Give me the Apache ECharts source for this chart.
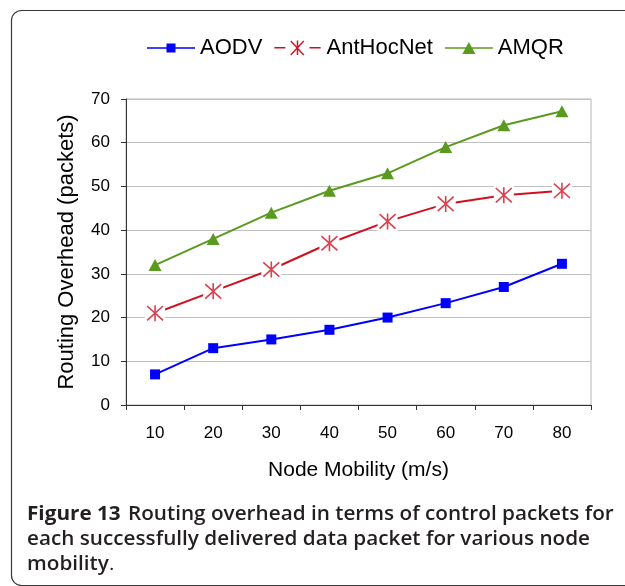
<!DOCTYPE html>
<html>
<head>
<meta charset="utf-8">
<script src="https://cdn.jsdelivr.net/npm/echarts@6/dist/echarts.min.js"></script>
<style>
  html, body { margin: 0; padding: 0; background: #ffffff; }
  #chart { width: 625px; height: 586px; }
</style>
</head>
<body>
<div id="chart"></div>
<script>
// Node mobility (m/s) on the category axis
const mobility = ['10', '20', '30', '40', '50', '60', '70', '80'];
// Routing overhead (control packets per delivered data packet)
const aodv = [7, 13, 15, 17.2, 20, 23.3, 27, 32.3];
const antHocNet = [21, 26, 31, 37, 42, 46, 48, 49];
const amqr = [32, 38, 44, 49, 53, 59, 64, 67.2];

const BLUE = '#0000ff';
const RED = '#d01020';
const GREEN = '#5a9a1e';
const AXIS_FONT = '"Liberation Sans", Arial, sans-serif';
const CAPTION_FONT = '"Open Sans", sans-serif';

// Asterisk marker: vertical bar plus an X, stroked
const asterisk = 'path://M1 1L19 19M19 1L1 19M10 0L10 20';

// Legend icons (48 x 15): line with the series marker in the middle
const iconSquare = 'path://M0 6.75H48V8.25H0Z M19.5 3H28.5V12H19.5Z';
const iconTriangle = 'path://M0 6.75H48V8.25H0Z M24 1.5L30.5 13.5L17.5 13.5Z';
const iconAsterisk = 'path://M0 6.75H11.5V8.25H0Z M36.5 6.75H48V8.25H36.5Z ' +
  'M23.25 0H24.75V15H23.25Z ' +
  'M17.53 -0.03L31.03 14.47L29.97 15.53L16.47 1.03Z ' +
  'M31.03 1.03L17.53 15.53L16.47 14.47L29.97 -0.03Z';

const chart = echarts.init(document.getElementById('chart'), null, { renderer: 'canvas' });

chart.setOption({
  animation: false,
  backgroundColor: '#ffffff',
  textStyle: { fontFamily: AXIS_FONT },
  grid: {
    left: 126, right: 34, top: 99, bottom: 181,
    show: true, borderColor: '#b4b4b4', borderWidth: 1, backgroundColor: 'transparent'
  },
  legend: {
    left: 147, top: 37, padding: 0,
    itemWidth: 48, itemHeight: 15, itemGap: 12,
    textStyle: { fontSize: 22, color: '#000', fontFamily: AXIS_FONT },
    selectedMode: false,
    data: [
      { name: 'AODV', icon: iconSquare, itemStyle: { color: BLUE, borderWidth: 0 } },
      { name: 'AntHocNet', icon: iconAsterisk, itemStyle: { color: RED, borderWidth: 0 } },
      { name: 'AMQR', icon: iconTriangle, itemStyle: { color: GREEN, borderWidth: 0 } }
    ]
  },
  xAxis: {
    type: 'category',
    data: mobility,
    boundaryGap: true,
    name: 'Node Mobility (m/s)',
    nameLocation: 'middle',
    nameGap: 55,
    nameTextStyle: { fontSize: 21, color: '#000', fontFamily: AXIS_FONT },
    axisLine: { lineStyle: { color: '#333', width: 1 } },
    axisTick: { show: true, length: 5, alignWithLabel: false, lineStyle: { color: '#333' } },
    axisLabel: { fontSize: 17, color: '#000', margin: 20, fontFamily: AXIS_FONT },
    splitLine: { show: false }
  },
  yAxis: {
    type: 'value',
    min: 0, max: 70, interval: 10,
    name: 'Routing Overhead (packets)',
    nameLocation: 'middle',
    nameGap: 48,
    nameTextStyle: { fontSize: 22, color: '#000', fontFamily: AXIS_FONT },
    axisLine: { show: true, lineStyle: { color: '#333', width: 1 } },
    axisTick: { show: true, length: 5, lineStyle: { color: '#333' } },
    axisLabel: { fontSize: 17, color: '#000', margin: 16, fontFamily: AXIS_FONT },
    splitLine: { show: true, lineStyle: { color: '#c0c0c0', width: 1 } }
  },
  series: [
    {
      name: 'AODV', type: 'line', data: aodv,
      symbol: 'rect', symbolSize: 10,
      itemStyle: { color: BLUE },
      lineStyle: { color: BLUE, width: 2 },
      z: 3, silent: true
    },
    {
      // line plus white blocks that open a gap around each asterisk
      name: 'AntHocNet', type: 'line', data: antHocNet,
      symbol: 'rect', symbolSize: 20,
      itemStyle: { color: '#ffffff', borderWidth: 0 },
      lineStyle: { color: RED, width: 2 },
      z: 2, silent: true
    },
    {
      name: 'AntHocNet', type: 'scatter', data: antHocNet,
      symbol: asterisk, symbolSize: 16,
      itemStyle: { color: RED, borderColor: RED, borderWidth: 1.6 },
      z: 4, silent: true
    },
    {
      name: 'AMQR', type: 'line', data: amqr,
      symbol: 'triangle', symbolSize: [13, 12],
      itemStyle: { color: GREEN },
      lineStyle: { color: GREEN, width: 2 },
      z: 3, silent: true
    }
  ],
  graphic: [
    {
      type: 'rect', silent: true,
      shape: { x: 11.5, y: 10.5, width: 700, height: 575, r: 10 },
      style: { fill: 'none', stroke: '#3a3a3a', lineWidth: 1.2 },
      z: -1
    },
    {
      type: 'text', silent: true,
      x: 27, y: 502, scaleX: 1.09,
      style: {
        text: '{b|Figure 13}  {s|Routing overhead in terms of control packets for}\n' +
              '{s|each successfully delivered data packet for various node}\n' +
              '{s|mobility}{r|.}',
        fill: '#231f20',
        rich: {
          b: { fontFamily: CAPTION_FONT, fontWeight: 700, fontSize: 19, lineHeight: 25, fill: '#231f20' },
          s: { fontFamily: CAPTION_FONT, fontWeight: 600, fontSize: 19, lineHeight: 25, fill: '#231f20' },
          r: { fontFamily: CAPTION_FONT, fontWeight: 400, fontSize: 19, lineHeight: 25, fill: '#231f20' }
        }
      }
    }
  ]
});
</script>
</body>
</html>
